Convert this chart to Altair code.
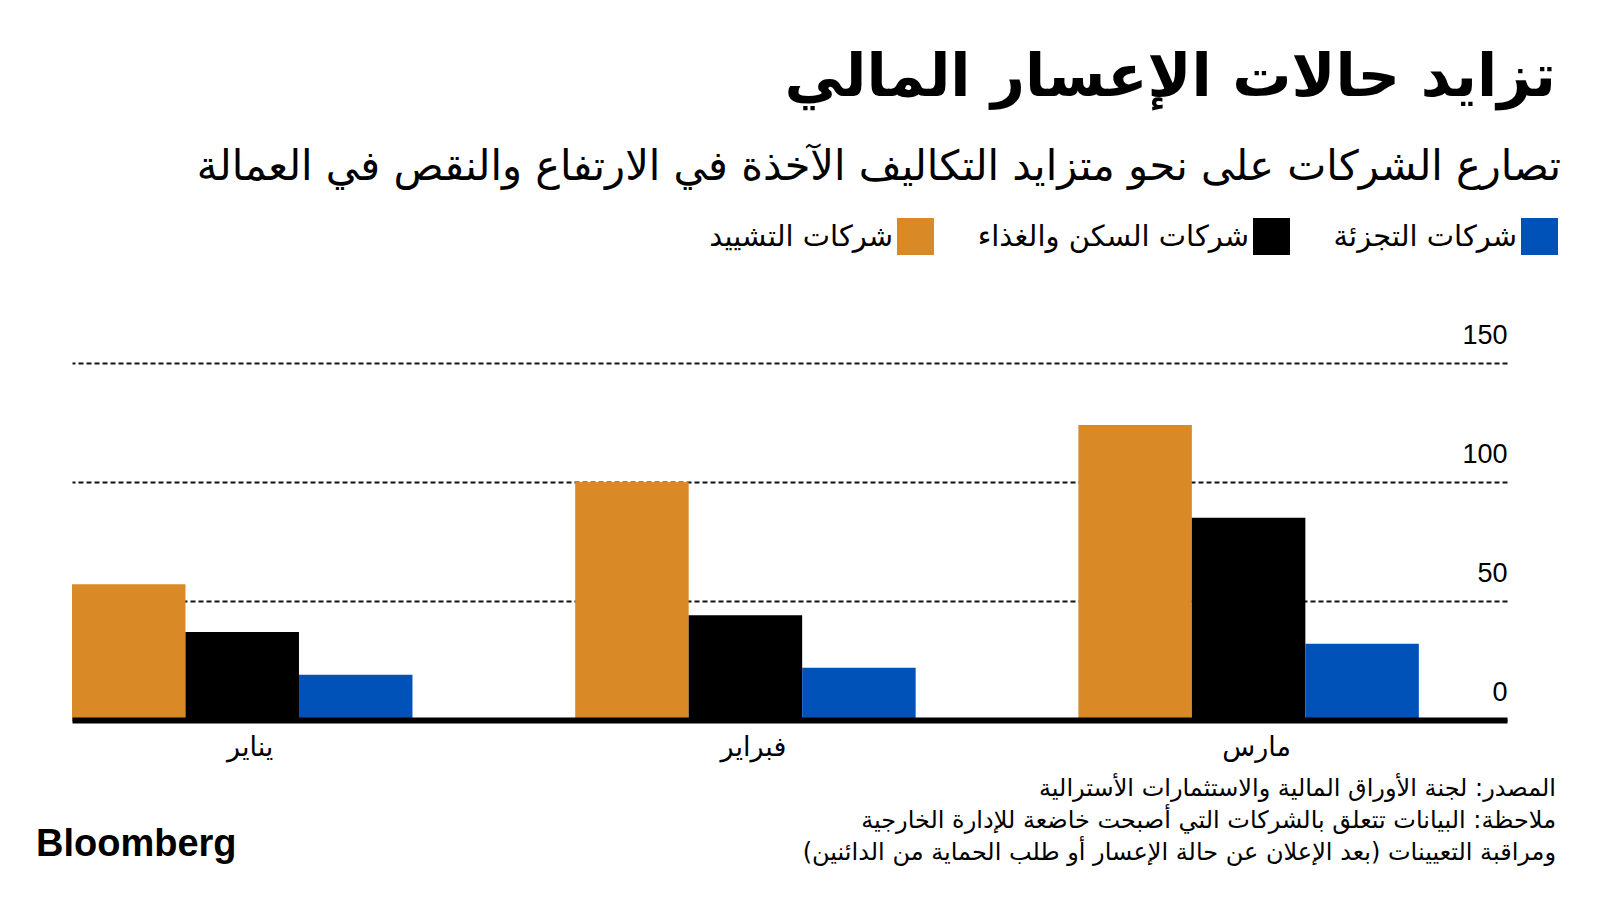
import altair as alt
import pandas as pd

months = ["يناير", "فبراير", "مارس"]
series = ["شركات التشييد", "شركات السكن والغذاء", "شركات التجزئة"]
construction = [57, 100, 124]
hospitality = [37, 44, 85]
retail = [19, 22, 32]
colors = ["#D98A26", "#000000", "#0051B8"]
y_ticks = [0, 50, 100, 150]

title_text = "تزايد حالات الإعسار المالي"
subtitle_text = "تصارع الشركات على نحو متزايد التكاليف الآخذة في الارتفاع والنقص في العمالة"
notes = [
    "المصدر: لجنة الأوراق المالية والاستثمارات الأسترالية",
    "ملاحظة: البيانات تتعلق بالشركات التي أصبحت خاضعة للإدارة الخارجية",
    "ومراقبة التعيينات (بعد الإعلان عن حالة الإعسار أو طلب الحماية من الدائنين)",
]
logo = "Bloomberg"

RLM = "\u200f"
AR_FONT = "DejaVu Sans"
NUM_FONT = "Liberation Sans"

rows = []
for i, m in enumerate(months):
    for s, vals in zip(series, [construction, hospitality, retail]):
        rows.append({"month": m, "series": s, "value": vals[i]})
df = pd.DataFrame(rows)

bars = alt.Chart(df).mark_bar().encode(
    x=alt.X(
        "month:N",
        sort=months,
        title=None,
        scale=alt.Scale(paddingInner=0.3234, paddingOuter=0.0876, align=0),
        axis=alt.Axis(
            labelAngle=0,
            labelFont=AR_FONT,
            labelFontSize=27,
            labelColor="#000000",
            labelPadding=14,
            labelOffset=8,
            ticks=False,
            domain=True,
            domainColor="#000000",
            domainWidth=6,
            grid=False,
            zindex=1,
        ),
    ),
    xOffset=alt.XOffset("series:N", sort=series, scale=alt.Scale(domain=series)),
    y=alt.Y(
        "value:Q",
        title=None,
        scale=alt.Scale(domain=[0, 150], nice=False),
        axis=alt.Axis(
            orient="right",
            values=y_ticks,
            domain=False,
            ticks=False,
            tickSize=0,
            labelPadding=0,
            labelAlign="right",
            labelBaseline="alphabetic",
            labelOffset=-20,
            labelFlush=False,
            labelFont=NUM_FONT,
            labelFontSize=27,
            labelColor="#000000",
            grid=True,
            gridColor="#111111",
            gridWidth=2,
            gridDash=[5, 3],
            zindex=0,
        ),
    ),
    color=alt.Color(
        "series:N",
        sort=series,
        scale=alt.Scale(domain=series, range=colors),
        legend=alt.Legend(
            title=None,
            orient="none",
            legendX=825,
            legendY=-145,
            direction="horizontal",
            symbolType="square",
            symbolSize=1369,
            symbolStrokeWidth=0,
            symbolOpacity=1,
            labelAlign="right",
            labelOffset={"expr": "-41"},
            labelFont=AR_FONT,
            labelFontSize=29,
            labelColor="#000000",
            labelLimit=500,
            columnPadding=43,
            padding=0,
        ),
    ),
)


def text_layer(txt, x, y, size, align="right", font=AR_FONT, weight="normal", baseline="middle"):
    return alt.Chart(pd.DataFrame({"t": [txt]})).mark_text(
        align=align,
        baseline=baseline,
        font=font,
        fontSize=size,
        fontWeight=weight,
        color="#000000",
    ).encode(text="t:N", x=alt.value(x), y=alt.value(y))


layers = [bars]
layers.append(text_layer(RLM + title_text + RLM, 1484, -285, 59, weight="bold"))
layers.append(text_layer(RLM + subtitle_text + RLM, 1489, -195, 41.5))
for i, n in enumerate(notes):
    layers.append(text_layer(RLM + n + RLM, 1484, 426 + 32 * i, 24))
layers.append(text_layer(logo, -36, 482, 38, align="left", font=NUM_FONT, weight="bold"))

chart = alt.layer(*layers).properties(
    width=1435,
    height=357,
    background="#ffffff",
    autosize=alt.AutoSizeParams(type="none"),
    padding={"left": 64, "top": 355, "right": 85, "bottom": 172},
).configure_view(stroke=None, strokeWidth=0)

chart.save("out.html", embed_options={"renderer": "svg", "actions": False})
